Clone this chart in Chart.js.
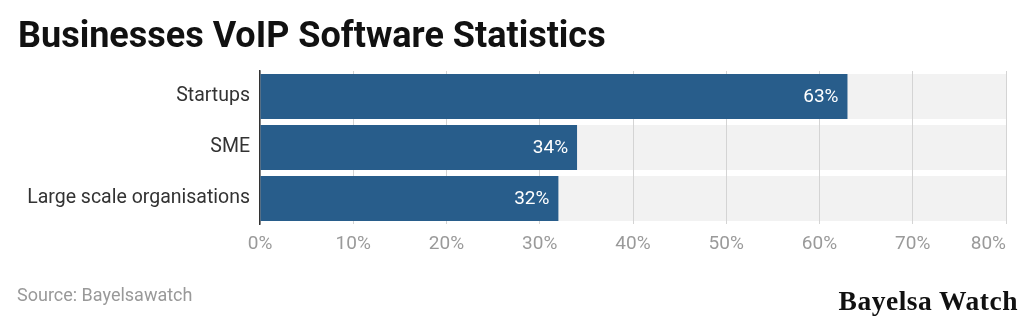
<!DOCTYPE html>
<html>
<head>
<meta charset="utf-8">
<script src="https://cdn.jsdelivr.net/npm/chart.js"></script>
<style>
  html,body{margin:0;padding:0;background:#fff;}
  #wrap{position:relative;width:1024px;height:322px;overflow:hidden;}
  #title{position:absolute;left:18px;top:14px;font-family:Roboto;font-weight:700;font-size:36px;color:#111;white-space:nowrap;}
  #source{position:absolute;left:17px;top:284px;font-family:Roboto;font-size:18px;color:#999;}
  #logo{position:absolute;right:6px;top:285px;font-family:"Liberation Serif","DejaVu Serif",serif;font-weight:700;font-size:27.5px;color:#111;letter-spacing:0.5px;}
  canvas{position:absolute;left:0;top:0;}
</style>
</head>
<body>
<div id="wrap">
  <canvas id="c" width="1024" height="322"></canvas>
  <div id="title">Businesses VoIP Software Statistics</div>
  <div id="source">Source: Bayelsawatch</div>
  <div id="logo">Bayelsa Watch</div>
</div>
<script>
const categories = ["Startups", "SME", "Large scale organisations"];
const values = [63, 34, 32];
const maxValue = 80;
const backgroundValues = [80, 80, 80];
const tickStep = 10;

const bgPlugin = {
  id: 'bgBands',
  beforeDraw(chart) {
    const meta = chart.getDatasetMeta(1);
    const ctx = chart.ctx;
    ctx.save();
    meta.data.forEach(el => el.draw(ctx));
    ctx.restore();
  },
  beforeDatasetDraw(chart, args) {
    if (args.index === 1) return false;
  }
};

const labelPlugin = {
  id: 'valueLabels',
  afterDatasetsDraw(chart) {
    const meta = chart.getDatasetMeta(0);
    const ctx = chart.ctx;
    ctx.save();
    ctx.font = '19px Roboto';
    ctx.fillStyle = '#ffffff';
    ctx.textAlign = 'right';
    ctx.textBaseline = 'middle';
    meta.data.forEach((el, i) => {
      ctx.fillText(values[i] + '%', el.x - 9, el.y + 1);
    });
    const xs = chart.scales.x;
    const area = chart.chartArea;
    ctx.font = '19px Roboto';
    ctx.fillStyle = '#9a9a9a';
    ctx.textBaseline = 'middle';
    xs.ticks.forEach(t => {
      const px = xs.getPixelForValue(t.value);
      const txt = t.value + '%';
      const w = ctx.measureText(txt).width;
      if (px + w / 2 > area.right) {
        ctx.textAlign = 'right';
        ctx.fillText(txt, area.right, area.bottom + 20);
      } else {
        ctx.textAlign = 'center';
        ctx.fillText(txt, px, area.bottom + 20);
      }
    });
    ctx.restore();
  }
};

new Chart(document.getElementById('c'), {
  type: 'bar',
  data: {
    labels: categories,
    datasets: [
      { data: values, backgroundColor: '#285d8b', categoryPercentage: 1, barPercentage: 0.88, grouped: false, order: 0 },
      { data: backgroundValues, backgroundColor: '#f2f2f2', categoryPercentage: 1, barPercentage: 0.88, grouped: false, order: 1 }
    ]
  },
  options: {
    indexAxis: 'y',
    responsive: false,
    animation: false,
    events: [],
    layout: { padding: { top: 71, right: 18, left: 0, bottom: 0 } },
    plugins: { legend: { display: false }, tooltip: { enabled: false } },
    scales: {
      x: {
        min: 0, max: maxValue,
        afterFit(s) { s.height = 98; },
        grid: { color: '#d4d4d4', lineWidth: 1, drawTicks: false },
        border: { display: false },
        ticks: { display: false, stepSize: tickStep }
      },
      y: {
        afterFit(s) { s.width = 260; },
        grid: { display: false, drawTicks: false },
        border: { display: true, color: '#333', width: 1.5 },
        ticks: { padding: 10, color: '#333', font: { family: 'Roboto', size: 19.5 } }
      }
    }
  },
  plugins: [bgPlugin, labelPlugin]
});
</script>
</body>
</html>
